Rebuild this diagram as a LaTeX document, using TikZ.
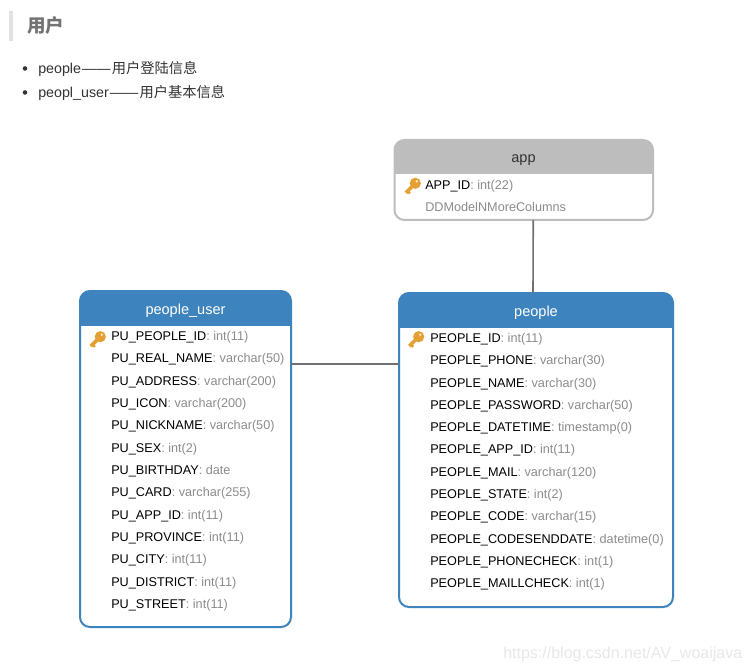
\documentclass[tikz,border=0pt]{standalone}
\usepackage{fontspec}
\setmainfont{Liberation Sans}
\newfontfamily\cjk{Noto Sans CJK SC}
\usetikzlibrary{calc}
\definecolor{hblue}{HTML}{3D83BD}
\definecolor{hgray}{HTML}{BDBDBD}
\definecolor{ftype}{HTML}{8C8C8C}
\definecolor{keyc}{HTML}{E5A033}
\definecolor{link}{HTML}{707070}
\definecolor{body}{HTML}{333333}
\tikzset{
  x=0.75pt,y=-0.75pt,
  tablebox/.style={draw=#1,line width=1.5pt,rounded corners=7.5pt,inner sep=0pt,outer sep=0pt},
  title/.style={inner sep=0pt,font=\fontsize{10.9pt}{13pt}\selectfont},
  field/.style={anchor=base west,inner sep=0pt,font=\fontsize{9.5pt}{12pt}\selectfont,text=black},
  connector/.style={draw=link,line width=1.2pt},
  para/.style={anchor=base west,inner sep=0pt,text=body,font=\fontsize{10.7pt}{13pt}\selectfont},
  bulletdot/.style={circle,fill=body,inner sep=0pt,minimum size=3.4pt},
  pics/keyicon/.style={code={
    \fill[keyc,even odd rule] (5,-5) circle (5.6) (6.5,-7) circle (1.4);
    \draw[keyc,line width=2.7pt] (3,-3) -- (-4.5,4.5);
    \draw[keyc,line width=1.8pt] (-2.6,3) -- (-0.4,5.2);
  }}
}
\newcommand{\ftable}[7]{% name, x0, y0, x1, y1, yh, colour
  \begin{scope}
    \clip (#2-2,#3-2) rectangle (#4+2,#6);
    \fill[#7,rounded corners=7.5pt] (#2,#3) rectangle (#4,#5);
  \end{scope}
  \node[tablebox=#7,minimum width={(#4-#2)*0.75pt},minimum height={(#5-#3)*0.75pt}] (#1) at ({(#2+#4)/2},{(#3+#5)/2}) {};
}
\newcommand{\fld}[2]{#1\textcolor{ftype}{: #2}}
\newcommand{\dashes}{\kern0.7pt——\kern0.9pt}
\begin{document}
\begin{tikzpicture}
\useasboundingbox (0,0) rectangle (752,670);
\fill[white] (0,0) rectangle (752,670);
% page heading
\fill[black!11] (9,11) rectangle (13,41);
\node[anchor=base west,inner sep=0pt,text=black!55,font=\fontsize{13.9pt}{16pt}\selectfont\cjk\bfseries] (heading) at (27,33) {用户};
\node[bulletdot] (b1) at (25,68.5) {};
\node[bulletdot] (b2) at (25,92.5) {};
\node[para] (l1) at (38,74) {people\dashes{\cjk 用户登陆信息}};
\node[para] (l2) at (38,98) {peopl\_user\dashes{\cjk 用户基本信息}};
% tables
\ftable{app}{394.5}{140}{653}{220}{174}{hgray}
\ftable{people}{399}{293}{673}{607}{327}{hblue}
\ftable{user}{80}{291}{291}{627}{325}{hblue}
\node[title,text=body] (apptitle) at (523.5,160) {app};
\node[title,text=white] (peopletitle) at (536,313) {people};
\node[title,text=white] (usertitle) at (185.5,311) {people\_user};
% connectors
\draw[connector] ($(app.south)+(9.5,0)$) -- ($(people.north)+(-3,0)$);
\draw[connector] (user.east |- 0,364) -- (people.west |- 0,364);
% app fields
\path (410.3,188.3) pic {keyicon};
\node[field] (a1) at (425,189.5) {\fld{APP\_ID}{int(22)}};
\node[field,text=ftype] (a2) at (425,212) {DDModelNMoreColumns};
% people_user fields
\path (95.3,341.7) pic {keyicon};
\foreach \t [count=\i from 0] in {
  {\fld{PU\_PEOPLE\_ID}{int(11)}},
  {\fld{PU\_REAL\_NAME}{varchar(50)}},
  {\fld{PU\_ADDRESS}{varchar(200)}},
  {\fld{PU\_ICON}{varchar(200)}},
  {\fld{PU\_NICKNAME}{varchar(50)}},
  {\fld{PU\_SEX}{int(2)}},
  {\fld{PU\_BIRTHDAY}{date}},
  {\fld{PU\_CARD}{varchar(255)}},
  {\fld{PU\_APP\_ID}{int(11)}},
  {\fld{PU\_PROVINCE}{int(11)}},
  {\fld{PU\_CITY}{int(11)}},
  {\fld{PU\_DISTRICT}{int(11)}},
  {\fld{PU\_STREET}{int(11)}}}
  \node[field] (u\i) at (111,{340.4+22.34*\i}) {\t};
% people fields
\path (413.7,341.7) pic {keyicon};
\foreach \t [count=\i from 0] in {
  {\fld{PEOPLE\_ID}{int(11)}},
  {\fld{PEOPLE\_PHONE}{varchar(30)}},
  {\fld{PEOPLE\_NAME}{varchar(30)}},
  {\fld{PEOPLE\_PASSWORD}{varchar(50)}},
  {\fld{PEOPLE\_DATETIME}{timestamp(0)}},
  {\fld{PEOPLE\_APP\_ID}{int(11)}},
  {\fld{PEOPLE\_MAIL}{varchar(120)}},
  {\fld{PEOPLE\_STATE}{int(2)}},
  {\fld{PEOPLE\_CODE}{varchar(15)}},
  {\fld{PEOPLE\_CODESENDDATE}{datetime(0)}},
  {\fld{PEOPLE\_PHONECHECK}{int(1)}},
  {\fld{PEOPLE\_MAILLCHECK}{int(1)}}}
  \node[field] (p\i) at (430,{342.4+22.3*\i}) {\t};
% watermark
\node[anchor=base west,inner sep=0pt,text=black!9,font=\fontsize{12pt}{15pt}\selectfont] (wm) at (503,658) {https://blog.csdn.net/AV\_woaijava};
\end{tikzpicture}
\end{document}
